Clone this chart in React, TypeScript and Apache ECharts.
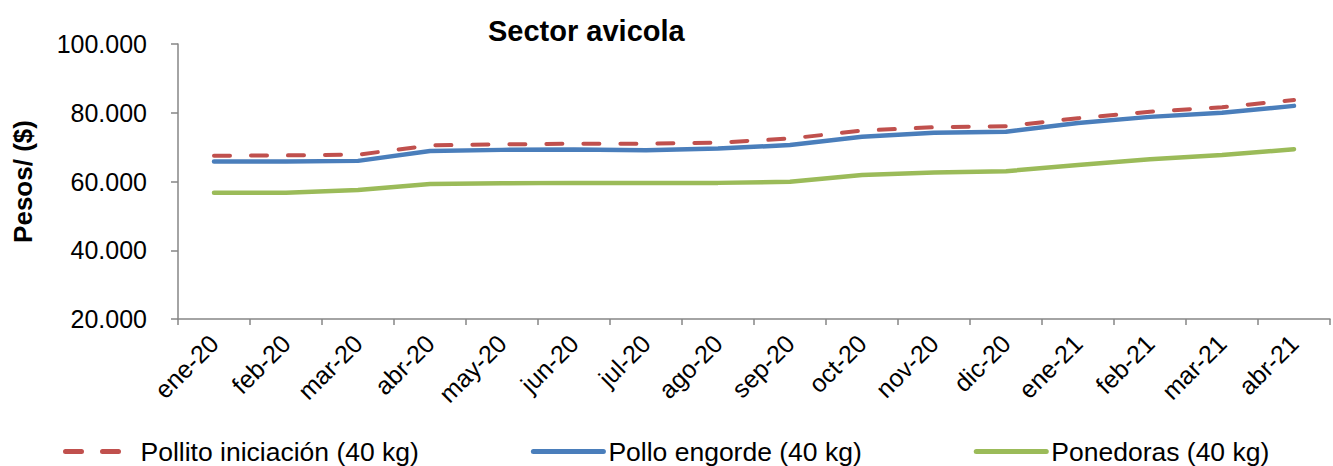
import React, { useEffect, useRef } from "react";
import * as echarts from "echarts";

const categories = ["ene-20","feb-20","mar-20","abr-20","may-20","jun-20","jul-20","ago-20","sep-20","oct-20","nov-20","dic-20","ene-21","feb-21","mar-21","abr-21"];
const pollitoIniciacion = [67500, 67600, 67800, 70500, 70800, 71000, 71000, 71300, 72500, 74800, 75800, 76100, 78400, 80300, 81600, 83700];
const polloEngorde = [65800, 65800, 66000, 68900, 69200, 69300, 69100, 69600, 70600, 73000, 74200, 74500, 77000, 78800, 80000, 82000];
const ponedoras = [56700, 56700, 57500, 59300, 59500, 59600, 59600, 59600, 59900, 61900, 62600, 63000, 64800, 66500, 67700, 69400];
const seriesNames = ["Pollito iniciación (40 kg)", "Pollo engorde (40 kg)", "Ponedoras (40 kg)"];

const FONT = "'Liberation Sans', Arial, sans-serif";

function fmt(v: number) {
  return String(v).replace(/\B(?=(\d{3})+(?!\d))/g, ".");
}

export default function App() {
  const ref = useRef<HTMLDivElement>(null);
  useEffect(() => {
    if (!ref.current) return;
    const chart = echarts.init(ref.current, undefined, { renderer: "svg" });
    chart.setOption({
      animation: false,
      backgroundColor: "#ffffff",
      textStyle: { fontFamily: FONT },
      title: {
        text: "Sector avicola",
        left: 483,
        top: 11,
        textStyle: { fontFamily: FONT, fontSize: 29, fontWeight: "bold", color: "#000" },
      },
      legend: {
        left: 58,
        top: 433,
        itemWidth: 70,
        itemHeight: 10,
        itemGap: 112,
        itemStyle: { opacity: 0 },
        lineStyle: { width: 5 },
        textStyle: { fontFamily: FONT, fontSize: 26.5, color: "#000" },
        data: seriesNames,
      },
      grid: { left: 178, right: 3, top: 44, bottom: 147, containLabel: false },
      xAxis: {
        type: "category",
        data: categories,
        boundaryGap: true,
        axisLine: { lineStyle: { color: "#868686", width: 1.5 } },
        axisTick: { show: true, length: 6, lineStyle: { color: "#868686", width: 1.5 } },
        axisLabel: { rotate: 45, fontSize: 25, color: "#000", fontFamily: FONT, margin: 20, interval: 0 },
        splitLine: { show: false },
      },
      yAxis: {
        type: "value",
        min: 20000,
        max: 100000,
        interval: 20000,
        name: "Pesos/ ($)",
        nameLocation: "middle",
        nameGap: 142,
        nameTextStyle: { fontFamily: FONT, fontSize: 26, fontWeight: "bold", color: "#000" },
        axisLine: { show: true, lineStyle: { color: "#868686", width: 1.5 } },
        axisTick: { show: true, length: 7, lineStyle: { color: "#868686", width: 1.5 } },
        axisLabel: { fontSize: 25, color: "#000", fontFamily: FONT, margin: 31, formatter: (v: number) => fmt(v) },
        splitLine: { show: false },
      },
      series: [
        {
          name: seriesNames[0],
          type: "line",
          data: pollitoIniciacion,
          symbol: "none",
          z: 3,
          itemStyle: { color: "#C0504D" },
          lineStyle: { color: "#C0504D", width: 4, type: [16, 21], cap: "round" },
        },
        {
          name: seriesNames[1],
          type: "line",
          data: polloEngorde,
          symbol: "none",
          z: 2,
          itemStyle: { color: "#4A7EBB" },
          lineStyle: { color: "#4A7EBB", width: 4.5, cap: "round" },
        },
        {
          name: seriesNames[2],
          type: "line",
          data: ponedoras,
          symbol: "none",
          z: 2,
          itemStyle: { color: "#9BBB59" },
          lineStyle: { color: "#9BBB59", width: 4.5, cap: "round" },
        },
      ],
    });
    return () => chart.dispose();
  }, []);
  return <div ref={ref} style={{ position: "fixed", left: 0, top: 0, width: 1333, height: 466 }} />;
}
